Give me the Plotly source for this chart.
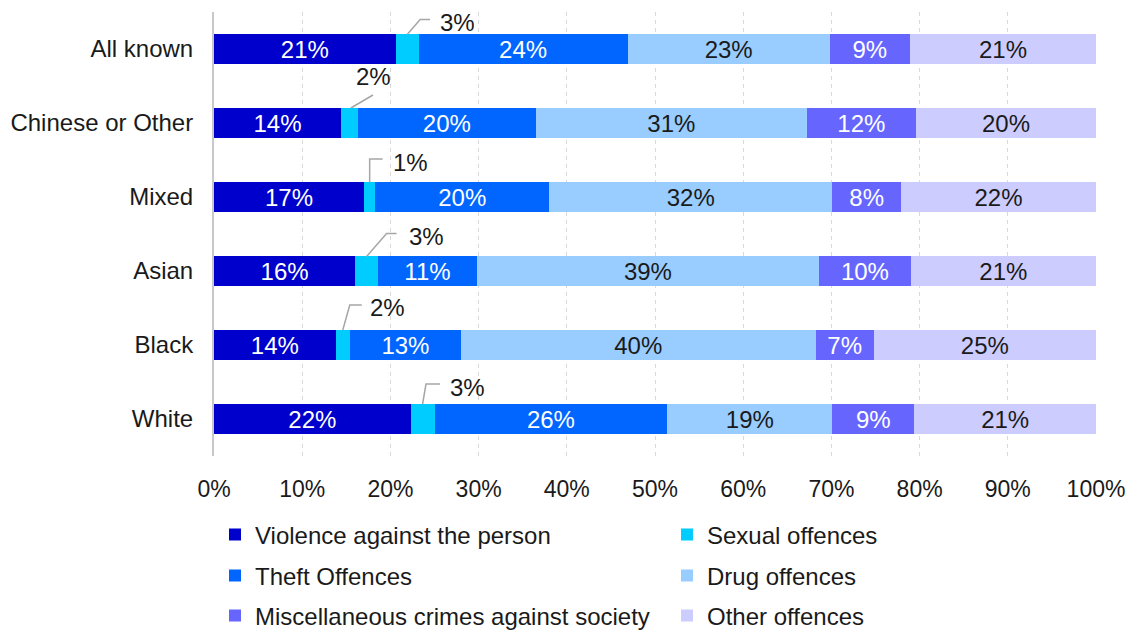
import plotly.graph_objects as go

# Share of offences by ethnic group (percent of all offences, each row sums to 100)
categories = ["All known", "Chinese or Other", "Mixed", "Asian", "Black", "White"]
violence = [20.6, 14.4, 17.0, 16.0, 13.8, 22.3]
sexual = [2.6, 1.9, 1.3, 2.6, 1.6, 2.7]
theft = [23.7, 20.2, 19.7, 11.2, 12.6, 26.4]
drug = [22.9, 30.7, 32.1, 38.8, 40.2, 18.7]
misc = [9.1, 12.4, 7.8, 10.4, 6.6, 9.3]
other = [21.1, 20.4, 22.1, 21.0, 25.2, 20.6]

x_ticks = [0, 10, 20, 30, 40, 50, 60, 70, 80, 90, 100]
x_tick_labels = [f"{t}%" for t in x_ticks]

FONT = "Liberation Sans, Arial, sans-serif"
FS = 24
W, H = 1131, 632

series = [
    ("Violence against the person", violence, "#0000CC", "white"),
    ("Sexual offences", sexual, "#00CCFF", None),
    ("Theft Offences", theft, "#0066FF", "white"),
    ("Drug offences", drug, "#99CCFF", "#1a1a1a"),
    ("Miscellaneous crimes against society", misc, "#6666FF", "white"),
    ("Other offences", other, "#CCCCFF", "#1a1a1a"),
]

# one single-entry legend per series, laid out as a 2-column grid below the chart
legend_cols = [215, 667]
legend_rows = [535, 576, 616]
legend_ids = ["legend"] + [f"legend{k}" for k in range(2, 7)]

fig = go.Figure()
for k, (name, vals, color, tcolor) in enumerate(series):
    kw = {}
    if tcolor is None:
        kw["textposition"] = "none"
    else:
        kw.update(
            texttemplate="%{x:.0f}%",
            textposition="inside",
            insidetextanchor="middle",
            textangle=0,
            insidetextfont=dict(family=FONT, size=FS, color=tcolor),
        )
    fig.add_trace(go.Bar(
        name=name, y=categories, x=vals, orientation="h",
        marker=dict(color=color, line=dict(width=0)),
        legend=legend_ids[k], hoverinfo="skip", **kw,
    ))

# Outside labels for the thin sexual-offences segments, with elbow leader lines
# (pixel offsets from the segment centre; y positive upwards)
leader_paths = [
    [(0, 14.5), (13, 29.5), (23, 29.5)],
    [(1.5, 15), (23.6, 28)],
    [(0, 15), (0, 38), (13, 38)],
    [(0, 14.5), (20, 37.5), (30, 37.5)],
    [(0, 15), (7, 40), (19, 40)],
    [(0, 15), (3.4, 35), (17.4, 35)],
]
label_offsets = [(31, 26.5), (4.6, 47), (21, 35), (40, 34.5), (25, 38), (25.4, 32)]

for i, cat in enumerate(categories):
    mid = violence[i] + sexual[i] / 2
    path = "M" + " L".join(f"{px},{py}" for px, py in leader_paths[i])
    fig.add_shape(
        type="path", xref="x", yref="y",
        xsizemode="pixel", ysizemode="pixel",
        xanchor=mid, yanchor=i, path=path,
        line=dict(color="#a6a6a6", width=1.5), layer="above",
    )
    dx, dy = label_offsets[i]
    fig.add_annotation(
        x=mid, y=cat, xref="x", yref="y", xshift=dx, yshift=dy,
        text=f"{round(sexual[i])}%", showarrow=False,
        xanchor="left", yanchor="middle",
        font=dict(family=FONT, size=FS, color="#1a1a1a"),
    )

legends = {}
for k, lid in enumerate(legend_ids):
    legends[lid] = dict(
        orientation="h", xref="container", yref="container",
        xanchor="left", yanchor="middle",
        x=legend_cols[k % 2] / W, y=1 - legend_rows[k // 2] / H,
        font=dict(family=FONT, size=FS, color="#1a1a1a"),
        bgcolor="rgba(0,0,0,0)",
    )

fig.update_layout(
    width=W, height=H,
    margin=dict(l=214, r=35, t=12, b=176, autoexpand=False),
    plot_bgcolor="white", paper_bgcolor="white",
    barmode="stack", bargap=0.6,
    font=dict(family=FONT, size=FS, color="#1a1a1a"),
    uniformtext=dict(minsize=FS, mode="show"),
    showlegend=True,
    xaxis=dict(
        range=[0, 100], tickvals=x_ticks, ticktext=x_tick_labels,
        showgrid=True, gridcolor="#d9d9d9", gridwidth=1, griddash="4px,4px",
        zeroline=False, showline=False, ticks="", ticklabelstandoff=17,
        tickfont=dict(family=FONT, size=23, color="#1a1a1a"), fixedrange=True,
        automargin=False,
    ),
    yaxis=dict(
        categoryorder="array", categoryarray=categories,
        range=[len(categories) - 0.5, -0.5], autorange=False,
        showgrid=False, zeroline=False, showline=True,
        linecolor="#c8c8c8", linewidth=2, ticks="", ticklabelstandoff=14,
        tickfont=dict(family=FONT, size=FS, color="#1a1a1a"), fixedrange=True,
        automargin=False,
    ),
    **legends,
)

fig.write_html("out.html")
